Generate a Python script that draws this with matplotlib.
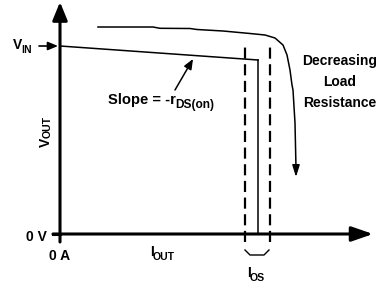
import matplotlib.pyplot as plt
import numpy as np

plt.rcParams['font.family'] = ['Liberation Sans', 'DejaVu Sans']
plt.rcParams['font.weight'] = 'bold'

# diagram values (arbitrary units, origin at 0 A / 0 V)
v_in = 188
load_i = [0, 198]
load_v = [188, 174]
i_limit = 198
i_os = [185, 210]
dash_top = 189
dash_bottom = -8
# curve for decreasing load resistance
curve_i = [38, 93, 100, 130, 137, 163, 190, 205, 215, 223, 227, 230, 232, 233, 235, 236]
curve_v = [207, 207, 205.7, 205.5, 204.5, 203, 200.5, 199, 196, 189, 179, 164, 149, 144, 111, 66]
curve_end = 57

fs = 10
fs_sub = 7.6

fig = plt.figure(figsize=(3.77, 2.88), dpi=100)
ax = fig.add_axes([0, 0, 1, 1])
ax.set_xlim(-60, 317)
ax.set_ylim(-54, 234)
ax.axis("off")


def sub_label(x, y, main, sub, size=fs, size_sub=fs_sub, drop=-1.0):
    # main text with a lowered subscript right after it
    t = ax.text(x, y, main, fontsize=size, ha="left", va="baseline")
    ax.annotate(sub, xy=(1, 0), xycoords=t, xytext=(-0.6, drop),
                textcoords="offset points", fontsize=size_sub,
                ha="left", va="baseline")


# axes with arrows
ax.annotate("", xy=(0, 232), xytext=(0, -8),
            arrowprops=dict(arrowstyle="-|>,head_length=1.1,head_width=0.45",
                            lw=2.2, color="black", shrinkA=0, shrinkB=0))
ax.annotate("", xy=(313, 0), xytext=(-7, 0),
            arrowprops=dict(arrowstyle="-|>,head_length=1.3,head_width=0.45",
                            lw=2.2, color="black", shrinkA=0, shrinkB=0))

# load line and current limit
ax.plot(load_i, load_v, color="black", lw=1.1)
ax.plot([i_limit, i_limit], [load_v[1], 0], color="black", lw=1.1)

# I_OS window
for x in i_os:
    ax.plot([x, x], [dash_bottom, dash_top], color="black", lw=1.6,
            dashes=(5, 2.5))
ax.plot([i_os[0], i_os[0] + 5, i_os[1] - 6, i_os[1] - 1],
        [-16, -21, -21, -16], color="black", lw=1)

# decreasing load resistance curve
ax.plot(curve_i, curve_v, color="black", lw=1.1)
ax.annotate("", xy=(curve_i[-1], curve_end), xytext=(curve_i[-1], curve_v[-1] + 1),
            arrowprops=dict(arrowstyle="-|>,head_length=0.7,head_width=0.22",
                            lw=1.1, color="black", shrinkA=0, shrinkB=0))

# V_IN arrow
ax.annotate("", xy=(-2, v_in), xytext=(-21, v_in),
            arrowprops=dict(arrowstyle="-|>,head_length=0.6,head_width=0.25",
                            lw=1.2, color="black", shrinkA=0, shrinkB=0))
# slope arrow
ax.annotate("", xy=(133, 175), xytext=(115, 144),
            arrowprops=dict(arrowstyle="-|>,head_length=0.6,head_width=0.25",
                            lw=1.1, color="black", shrinkA=0, shrinkB=0))

# tick at the origin
ax.plot([-7, 0], [0, 0], color="black", lw=2.2)

# labels
sub_label(-47, 185, "V", "IN")
sub_label(90, -22, "I", "OUT", drop=-0.5)
sub_label(187, -43, "I", "OS")
sub_label(48, 130, "Slope = -r", "DS(on)", size=10.6, size_sub=8.6)
ax.text(-14.5, 92, "V", fontsize=fs, ha="center", va="center", rotation=90)
ax.text(-12.5, 106.5, "OUT", fontsize=fs_sub, ha="center", va="center", rotation=90)
ax.text(-13, -3, "0 V", fontsize=fs, ha="right", va="center")
ax.text(0, -22, "0 A", fontsize=fs, ha="center", va="center")
ax.text(280, 173, "Decreasing", fontsize=fs, ha="center", va="center")
ax.text(280, 152, "Load", fontsize=fs, ha="center", va="center")
ax.text(280, 131, "Resistance", fontsize=fs, ha="center", va="center")

plt.savefig("out.png", dpi=100)
